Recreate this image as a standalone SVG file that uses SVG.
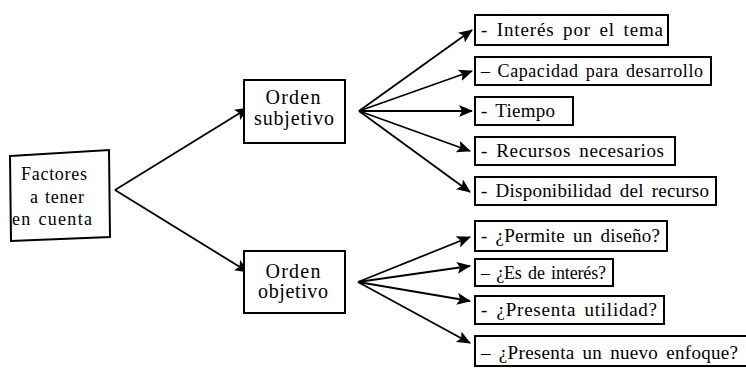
<svg xmlns="http://www.w3.org/2000/svg" width="746" height="370" viewBox="0 0 746 370">
<defs>
<marker id="ah" viewBox="0 0 14 12" refX="13" refY="6" markerWidth="14" markerHeight="12" markerUnits="userSpaceOnUse" orient="auto">
<path d="M0,0 L14,6 L0,12 L3,6 Z" fill="#000"/>
</marker>
</defs>
<style>
.box{fill:#fff;stroke:#000;stroke-width:2}
.t{font-family:"Liberation Serif","Times New Roman",serif;font-size:19px;fill:#000;word-spacing:3px}
.c{text-anchor:middle;word-spacing:1px}
.m{font-size:20px}
.f{font-size:18px}
.s{font-size:18px;word-spacing:2px}
.ln{stroke:#000;stroke-width:1.8;fill:none;marker-end:url(#ah)}
</style>
<rect width="746" height="370" fill="#fff"/>
<g id="connectors">
<line class="ln" x1="115" y1="190" x2="248" y2="108"/>
<line class="ln" x1="115" y1="190" x2="248" y2="272"/>
<line class="ln" x1="359" y1="111" x2="472" y2="30"/>
<line class="ln" x1="359" y1="111" x2="472" y2="71"/>
<line class="ln" x1="359" y1="111" x2="472" y2="111"/>
<line class="ln" x1="359" y1="111" x2="470" y2="151"/>
<line class="ln" x1="359" y1="111" x2="470" y2="192"/>
<line class="ln" x1="358" y1="282" x2="470" y2="237"/>
<line class="ln" x1="358" y1="282" x2="470" y2="266"/>
<line class="ln" x1="358" y1="282" x2="470" y2="301"/>
<line class="ln" x1="358" y1="282" x2="470" y2="343"/>
</g>
<g id="factores">
<polygon class="box" points="10,156 109,150 110,237 11,241"/>
<text class="t c f" x="54" y="180" textLength="66" lengthAdjust="spacing">Factores</text>
<text class="t c f" x="57" y="203" textLength="54" lengthAdjust="spacing">a tener</text>
<text class="t c f" x="52" y="225" textLength="80" lengthAdjust="spacing">en cuenta</text>
</g>
<g id="subjetivo">
<rect class="box" x="244" y="80" width="101" height="63"/>
<text class="t c m" x="293" y="104" textLength="55" lengthAdjust="spacing">Orden</text>
<text class="t c m" x="294" y="125" textLength="80" lengthAdjust="spacing">subjetivo</text>
</g>
<g id="objetivo">
<rect class="box" x="244" y="251" width="101" height="62"/>
<text class="t c m" x="293" y="278" textLength="55" lengthAdjust="spacing">Orden</text>
<text class="t c m" x="293" y="298" textLength="70" lengthAdjust="spacing">objetivo</text>
</g>
<g id="n1"><rect class="box" x="475" y="15" width="193" height="30"/><text class="t" x="481" y="36" textLength="182" lengthAdjust="spacing">- Interés por el tema</text></g>
<g id="n2"><rect class="box" x="475" y="57" width="236" height="28"/><text class="t s" x="481" y="77" textLength="222" lengthAdjust="spacing">– Capacidad para desarrollo</text></g>
<g id="n3"><rect class="box" x="475" y="97" width="98" height="28"/><text class="t" x="481" y="117" textLength="74" lengthAdjust="spacing">- Tiempo</text></g>
<g id="n4"><rect class="box" x="475" y="137" width="200" height="28"/><text class="t" x="481" y="157" textLength="183" lengthAdjust="spacing">- Recursos necesarios</text></g>
<g id="n5"><rect class="box" x="475" y="177" width="241" height="28"/><text class="t" x="481" y="197" textLength="228" lengthAdjust="spacing">- Disponibilidad del recurso</text></g>
<g id="n6"><rect class="box" x="475" y="221" width="192" height="30"/><text class="t" x="481" y="242" textLength="179" lengthAdjust="spacing">- ¿Permite un diseño?</text></g>
<g id="n7"><rect class="box" x="475" y="259" width="138" height="27"/><text class="t s" x="481" y="279" textLength="125" lengthAdjust="spacing">– ¿Es de interés?</text></g>
<g id="n8"><rect class="box" x="475" y="296" width="189" height="28"/><text class="t" x="481" y="316" textLength="176" lengthAdjust="spacing">- ¿Presenta utilidad?</text></g>
<g id="n9"><rect class="box" x="475" y="336" width="275" height="30"/><text class="t" x="481" y="359" textLength="257" lengthAdjust="spacing">– ¿Presenta un nuevo enfoque?</text></g>
</svg>
